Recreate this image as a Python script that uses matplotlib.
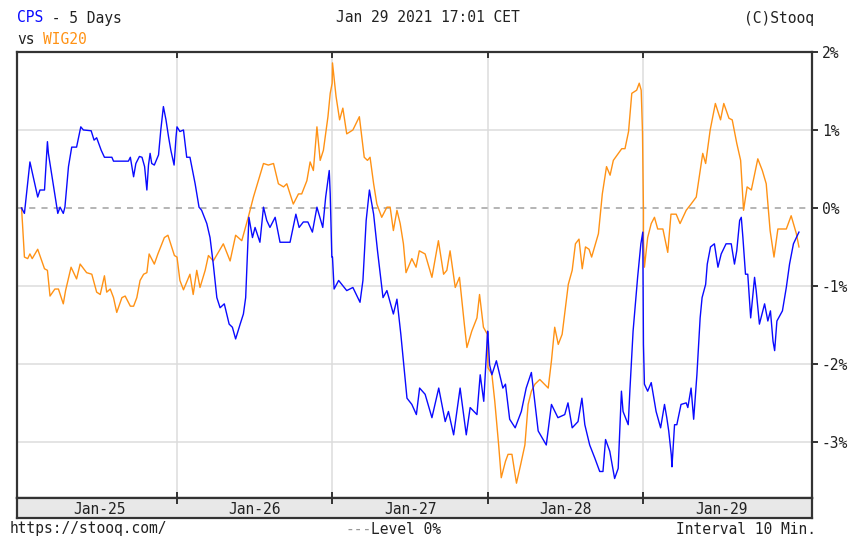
import matplotlib
matplotlib.use("Agg")
import matplotlib.pyplot as plt

# day labels on the time axis
days = ['Jan-25', 'Jan-26', 'Jan-27', 'Jan-28', 'Jan-29']

# CPS, % change, minutes after session open for each day
cps_min = [
    [0, 9, 26, 50, 57, 71, 80, 83, 109, 112, 119, 129, 134, 145, 155, 170, 183, 191, 215, 224, 232,
     246, 256, 279, 284, 330, 336, 346, 353, 364, 372, 380, 387, 392, 397, 402, 410, 423, 430, 438,
     446, 454, 461, 471, 477],
    [0, 9, 20, 30, 40, 56, 68, 76, 92, 102, 112, 123, 133, 146, 161, 171, 181, 195, 205, 212, 222,
     233, 241, 256, 267, 277, 287, 303, 318, 349, 367, 377, 390, 404, 418, 432, 450, 459, 470, 473, 478],
    [0, 5, 19, 44, 63, 85, 94, 104, 114, 127, 139, 156, 168, 188, 199, 211, 230, 245, 259, 269, 286,
     307, 328, 348, 358, 374, 394, 413, 425, 446, 456, 467, 479],
    [0, 5, 12, 26, 46, 54, 67, 84, 103, 118, 134, 155, 180, 196, 216, 237, 247, 260, 278, 290, 299,
     314, 330, 345, 355, 363, 376, 391, 402, 412, 417, 433, 438, 448, 462, 472, 478],
    [0, 3, 13, 24, 39, 53, 65, 72, 78, 86, 88, 96, 103, 116, 132, 137, 147, 155, 165, 175, 181, 192,
     197, 207, 219, 230, 240, 255, 271, 281, 288, 297, 302, 307, 315, 322, 331, 343, 348, 358, 374,
     384, 392, 400, 405, 412, 429, 441, 451, 463, 480],
]
cps_val = [
    [0.00, -0.07, 0.59, 0.14, 0.23, 0.23, 0.85, 0.70, 0.01, -0.07, 0.01, -0.07, 0.01, 0.53, 0.78, 0.78,
     1.04, 1.00, 0.99, 0.87, 0.90, 0.74, 0.65, 0.65, 0.60, 0.60, 0.65, 0.40, 0.57, 0.66, 0.65, 0.53,
     0.23, 0.55, 0.70, 0.57, 0.55, 0.68, 1.00, 1.30, 1.13, 0.91, 0.74, 0.55, 0.91],
    [1.04, 0.98, 1.00, 0.65, 0.65, 0.31, 0.01, -0.03, -0.20, -0.38, -0.72, -1.15, -1.28, -1.23, -1.49,
     -1.53, -1.68, -1.49, -1.36, -1.15, -0.12, -0.38, -0.25, -0.44, 0.01, -0.16, -0.25, -0.12, -0.44,
     -0.44, -0.08, -0.25, -0.18, -0.18, -0.31, 0.01, -0.25, 0.14, 0.48, 0.18, -0.63],
    [-0.63, -1.04, -0.93, -1.06, -1.02, -1.21, -0.93, -0.16, 0.23, -0.08, -0.55, -1.15, -1.06, -1.36,
     -1.17, -1.62, -2.44, -2.52, -2.65, -2.31, -2.39, -2.69, -2.31, -2.74, -2.61, -2.91, -2.31, -2.91,
     -2.56, -2.65, -2.14, -2.48, -1.58],
    [-1.62, -2.01, -2.14, -1.96, -2.31, -2.26, -2.71, -2.82, -2.61, -2.31, -2.11, -2.86, -3.04, -2.52,
     -2.69, -2.65, -2.50, -2.82, -2.74, -2.44, -2.78, -3.04, -3.21, -3.38, -3.38, -2.97, -3.12, -3.47,
     -3.34, -2.35, -2.61, -2.78, -2.35, -1.58, -0.89, -0.46, -0.31],
    [-1.75, -2.26, -2.35, -2.24, -2.61, -2.82, -2.52, -2.69, -2.86, -3.17, -3.32, -2.78, -2.78, -2.52,
     -2.50, -2.56, -2.31, -2.71, -2.14, -1.41, -1.15, -0.98, -0.72, -0.50, -0.46, -0.76, -0.59, -0.46,
     -0.46, -0.72, -0.55, -0.16, -0.12, -0.38, -0.85, -0.85, -1.41, -0.89, -1.06, -1.49, -1.23, -1.45,
     -1.32, -1.71, -1.83, -1.45, -1.32, -1.02, -0.72, -0.46, -0.31],
]

# WIG20, % change
wig_min = [
    [0, 3, 9, 19, 26, 33, 50, 60, 71, 80, 88, 103, 114, 129, 136, 153, 170, 181, 201, 217, 232, 243,
     256, 263, 274, 284, 294, 310, 320, 336, 346, 356, 366, 377, 387, 394, 410, 421, 441, 452, 472],
    [0, 9, 20, 40, 50, 61, 71, 87, 97, 112, 143, 164, 181, 200, 220, 236, 251, 267, 282, 298, 313,
     329, 339, 359, 375, 385, 401, 411, 421, 432, 442, 452, 466, 473, 479],
    [0, 11, 22, 32, 44, 63, 83, 98, 108, 116, 127, 137, 152, 168, 178, 188, 199, 209, 219, 227, 245,
     258, 268, 286, 307, 327, 343, 353, 363, 379, 392, 407, 415, 430, 446, 454, 466, 478],
    [0, 12, 21, 33, 41, 54, 62, 74, 88, 101, 114, 124, 134, 145, 160, 186, 196, 206, 217, 229, 248,
     260, 270, 281, 291, 301, 312, 320, 341, 353, 366, 377, 387, 413, 423, 434, 444, 459, 467, 473,
     477, 480],
    [0, 3, 13, 24, 34, 44, 60, 75, 85, 101, 113, 132, 147, 163, 175, 183, 192, 206, 222, 238, 248, 264,
     274, 288, 300, 309, 320, 333, 353, 367, 379, 391, 403, 415, 441, 456, 472, 480],
]
wig_val = [
    [0.00, -0.20, -0.63, -0.65, -0.59, -0.65, -0.53, -0.65, -0.78, -0.80, -1.13, -1.04, -1.04, -1.23,
     -1.06, -0.76, -0.91, -0.72, -0.83, -0.85, -1.08, -1.11, -0.87, -1.08, -1.04, -1.15, -1.34, -1.15,
     -1.13, -1.26, -1.26, -1.15, -0.93, -0.85, -0.83, -0.59, -0.72, -0.59, -0.38, -0.35, -0.61],
    [-0.63, -0.93, -1.05, -0.85, -1.11, -0.80, -1.02, -0.80, -0.61, -0.68, -0.46, -0.68, -0.35, -0.42,
     -0.12, 0.14, 0.35, 0.57, 0.55, 0.57, 0.31, 0.27, 0.31, 0.05, 0.18, 0.18, 0.35, 0.59, 0.48, 1.04,
     0.61, 0.74, 1.17, 1.47, 1.60],
    [1.86, 1.43, 1.13, 1.28, 0.95, 1.00, 1.17, 0.65, 0.61, 0.65, 0.31, 0.05, -0.12, 0.01, 0.01, -0.29,
     -0.03, -0.20, -0.46, -0.83, -0.65, -0.76, -0.55, -0.59, -0.89, -0.42, -0.85, -0.80, -0.55, -1.02,
     -0.89, -1.49, -1.79, -1.58, -1.41, -1.11, -1.53, -1.62],
    [-2.05, -2.13, -2.48, -3.04, -3.46, -3.25, -3.16, -3.16, -3.53, -3.29, -3.04, -2.52, -2.35, -2.26,
     -2.20, -2.31, -1.96, -1.53, -1.75, -1.62, -0.98, -0.80, -0.46, -0.40, -0.78, -0.50, -0.53, -0.63,
     -0.33, 0.18, 0.53, 0.42, 0.61, 0.76, 0.76, 0.98, 1.47, 1.51, 1.60, 1.51, 0.98, -0.03],
    [-0.40, -0.76, -0.38, -0.20, -0.12, -0.27, -0.27, -0.57, -0.08, -0.08, -0.20, -0.03, 0.05, 0.14,
     0.48, 0.70, 0.57, 1.00, 1.34, 1.13, 1.34, 1.15, 1.13, 0.83, 0.61, -0.03, 0.27, 0.23, 0.63, 0.48,
     0.31, -0.29, -0.63, -0.27, -0.27, -0.10, -0.33, -0.50],
]

session_minutes = 480
y_ticks = [2, 1, 0, -1, -2, -3]

W, H = 850, 538
mono = 'DejaVu Sans Mono'
fs = 10.5
c_cps = '#0a0aff'
c_wig = '#ff9215'
frame = '#333333'


def flatten(mins, vals):
    xs, ys = [], []
    for d, (m, v) in enumerate(zip(mins, vals)):
        xs += [d + t / session_minutes for t in m]
        ys += v
    return xs, ys


fig = plt.figure(figsize=(W / 100, H / 100), dpi=100)
fig.patch.set_facecolor('white')

# main plot area (pixel box 17..812 x 52..498)
ax = fig.add_axes([17 / W, 1 - 498 / H, (812 - 17) / W, (498 - 52) / H])
ax.set_xlim(-0.029, 5.084)
ax.set_ylim(-3.72, 2.0)

for d in range(1, len(days)):
    ax.axvline(d, color='#dcdcdc', lw=1.1, zorder=1)
for v in y_ticks:
    if v == 0:
        ax.axhline(v, color='#a0a0a0', lw=1.1, ls=(0, (4, 4)), zorder=1)
    elif v < 2:
        ax.axhline(v, color='#dcdcdc', lw=1.1, zorder=1)

wx, wy = flatten(wig_min, wig_val)
cx, cy = flatten(cps_min, cps_val)
ax.plot(wx, wy, color=c_wig, lw=1.0, zorder=3)
ax.plot(cx, cy, color=c_cps, lw=1.0, zorder=4)

for s in ax.spines.values():
    s.set_color(frame)
    s.set_linewidth(1.6)

ax.set_xticks(range(1, len(days)))
ax.tick_params(axis='x', direction='in', top=True, bottom=True, length=4, width=1.4,
               color=frame, labelbottom=False)
ax.yaxis.tick_right()
ax.set_yticks(y_ticks)
ax.set_yticklabels([f'{v}%' for v in y_ticks], fontfamily=mono, fontsize=fs, color='#222222')
ax.tick_params(axis='y', direction='out', length=4, width=1.4, color=frame, pad=3, left=False)

# date band under the plot
band = fig.add_axes([17 / W, 1 - 518 / H, (812 - 17) / W, 20 / H])
band.set_facecolor('#e8e8e8')
band.set_xlim(-0.029, 5.084)
band.set_ylim(0, 1)
band.set_yticks([])
band.set_xticks(range(1, len(days)))
band.tick_params(axis='x', direction='in', top=True, bottom=False, length=4, width=1.4,
                 color=frame, labelbottom=False)
for s in band.spines.values():
    s.set_color(frame)
    s.set_linewidth(1.6)
for d, lab in enumerate(days):
    band.text(d + 0.5, 0.45, lab, ha='center', va='center', fontfamily=mono, fontsize=fs, color='#222222')


def px(x, y):
    return x / W, 1 - y / H


# header
cw = 8.75
fig.text(*px(17, 18), 'CPS', color=c_cps, fontfamily=mono, fontsize=fs, va='center')
fig.text(*px(17 + 3 * cw, 18), ' - 5 Days', color='#222222', fontfamily=mono, fontsize=fs, va='center')
fig.text(*px(17, 39), 'vs', color='#222222', fontfamily=mono, fontsize=fs, va='center')
fig.text(*px(17 + 3 * cw, 39), 'WIG20', color=c_wig, fontfamily=mono, fontsize=fs, va='center')
fig.text(*px(428, 18), 'Jan 29 2021 17:01 CET', color='#222222', fontfamily=mono, fontsize=fs,
         va='center', ha='center')
fig.text(*px(814, 18), '(C)Stooq', color='#222222', fontfamily=mono, fontsize=fs, va='center', ha='right')

# footer
fig.text(*px(10, 529), 'https://stooq.com/', color='#222222', fontfamily=mono, fontsize=fs, va='center')
fig.text(*px(345, 529), '---', color='#999999', fontfamily=mono, fontsize=fs, va='center')
fig.text(*px(345 + 3 * cw, 529), 'Level 0%', color='#222222', fontfamily=mono, fontsize=fs, va='center')
fig.text(*px(816, 529), 'Interval 10 Min.', color='#222222', fontfamily=mono, fontsize=fs,
         va='center', ha='right')

fig.savefig('out.png', dpi=100)
